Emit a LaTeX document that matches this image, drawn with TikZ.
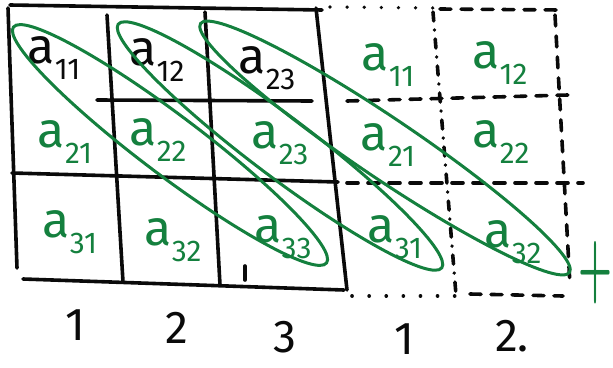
\documentclass[tikz,border=0pt]{standalone}
\usepackage{fontspec}
\setmainfont{Fira Sans}
\usepackage{tikz}
\usetikzlibrary{
  shapes.geometric
}
\definecolor{inkgreen}{RGB}{20, 128, 62}
\definecolor{inkblack}{RGB}{10, 10, 10}
\newcommand{\subfont}{\fontsize{30}{30}\selectfont}
\newcommand{\elem}[1]{a\raisebox{-16pt}{\subfont #1}}
\tikzset{
gridline/.style={
  draw=inkblack,
  line width=3.6pt,
  line cap=round,
  line join=round
},
dashline/.style={
  gridline,
  dash pattern=on 11pt off 10pt
},
dotline/.style={
  gridline,
  dash pattern=on 0.1pt off 17pt
},
dashdotline/.style={
  gridline,
  dash pattern=on 9pt off 9pt on 0.1pt off 9pt
},
entry/.style={
  inner sep=0pt,
  font=\fontsize{50}{50}\selectfont,
  text=inkgreen
},
blackentry/.style={
  entry,
  text=inkblack
},
colnum/.style={
  inner sep=0pt,
  font=\fontsize{46}{46}\selectfont,
  text=inkblack
},
diagloop/.style={
  ellipse,
  draw=inkgreen,
  line width=3pt,
  inner sep=0pt,
  minimum height=60pt
}
}

\begin{document}
\begin{tikzpicture}[x=1pt, y=-1pt]
      \useasboundingbox (0,0) rectangle (613,367);

      % Matrix grid
      \draw[gridline] (10,5) -- (322,10);
      \draw[gridline] (8,8) -- (17,268);
      \draw[gridline] (107,15) -- (123,282);
      \draw[gridline] (205,12) -- (220,285);
      \draw[gridline] (245,266) -- (245,280);
      \draw[gridline] (316,8) -- (347,290);
      \draw[gridline] (97,100) -- (312,101);
      \draw[gridline] (12,173) -- (338,182);
      \draw[gridline] (23,279) -- (344,290);

      % Repeated columns
      \draw[dotline] (330,7) -- (433,8);
      \draw[dashline] (440,9) -- (560,10);
      \draw[dashdotline] (433,12) -- (456,295);
      \draw[dashline] (555,15) -- (570,285);
      \draw[dashline] (347,101) -- (568,95);
      \draw[dashline] (347,183) -- (583,183);
      \draw[dotline] (352,296) -- (458,296);
      \draw[dashline] (470,294) -- (563,296);

      % Entries
      \node[blackentry] (e11) at (54,58) {\elem{11}};
      \node[blackentry] (e12) at (157,60) {\elem{12}};
      \node[blackentry] (e13) at (267,68) {\elem{23}};
      \node[entry] (e14) at (388,65) {\elem{11}};
      \node[entry] (e15) at (500,63) {\elem{12}};
      \node[entry] (e21) at (65,142) {\elem{21}};
      \node[entry] (e22) at (158,140) {\elem{22}};
      \node[entry] (e23) at (280,143) {\elem{23}};
      \node[entry] (e24) at (388,145) {\elem{21}};
      \node[entry] (e25) at (501,142) {\elem{22}};
      \node[entry] (e31) at (70,232) {\elem{31}};
      \node[entry] (e32) at (173,240) {\elem{32}};
      \node[entry] (e33) at (283,237) {\elem{33}};
      \node[entry] (e34) at (395,237) {\elem{31}};
      \node[entry] (e35) at (513,242) {\elem{32}};

      % Diagonals
      \node[diagloop, minimum width=392pt, rotate=-37] (d1) at (170,145) {};
      \node[diagloop, minimum width=405pt, rotate=-37] (d2) at (280,146) {};
      \node[diagloop, minimum width=445pt, rotate=-34] (d3) at (385,148) {};

      \node[entry] (plus) at (595,273) {\resizebox{34pt}{52pt}{\boldmath$+$}};

      % Column numbers below
      \node[colnum] (n1) at (75,325) {1};
      \node[colnum] (n2) at (177,328) {2};
      \node[colnum] (n3) at (285,337) {3};
      \node[colnum] (n4) at (404,339) {1};
      \node[colnum] (n5) at (512,336) {2.};
    \end{tikzpicture}
\end{document}
